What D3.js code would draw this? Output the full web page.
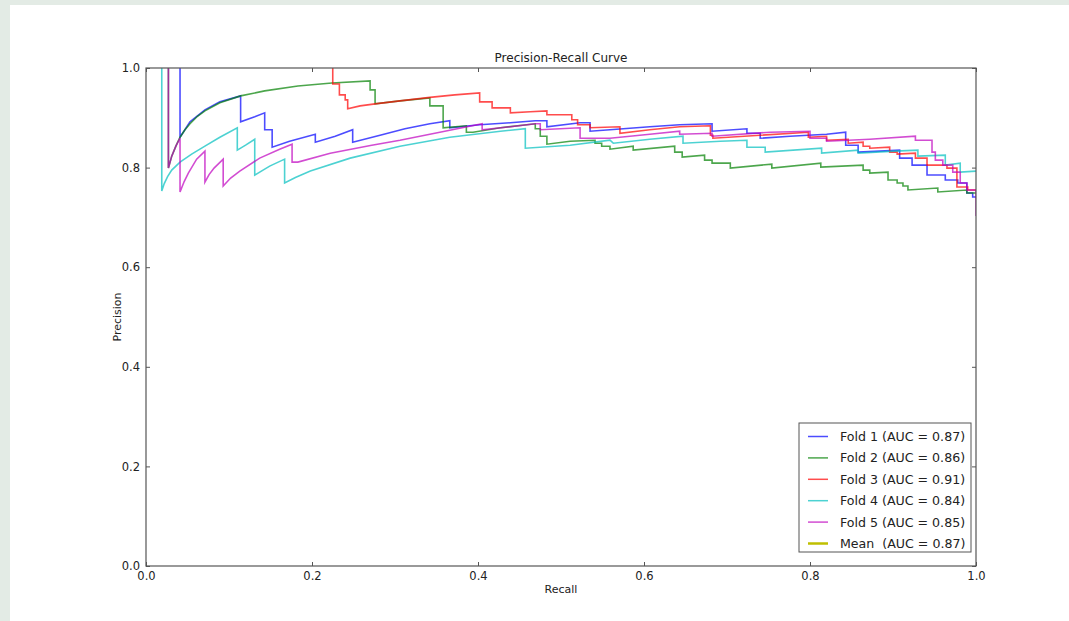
<!DOCTYPE html>
<html>
<head>
<meta charset="utf-8">
<script src="https://cdn.jsdelivr.net/npm/d3@7"></script>
<style>
  body { margin: 0; background: #fff; }
  svg text { font-family: 'DejaVu Sans', sans-serif; fill: #222; }
</style>
</head>
<body>
<script>
// recall / precision pairs, one array per fold
const fold1 = [
  [0.041, 1.0], [0.041, 0.861], [0.053, 0.892], [0.071, 0.916], [0.089, 0.932], [0.114, 0.944],
  [0.114, 0.892], [0.131, 0.902], [0.143, 0.910], [0.143, 0.876], [0.152, 0.876], [0.152, 0.841],
  [0.173, 0.853], [0.204, 0.867], [0.204, 0.851], [0.228, 0.863], [0.249, 0.876], [0.249, 0.851],
  [0.282, 0.865], [0.312, 0.878], [0.342, 0.888], [0.366, 0.894], [0.366, 0.880], [0.402, 0.886],
  [0.439, 0.890], [0.469, 0.894], [0.483, 0.894], [0.483, 0.882], [0.523, 0.890], [0.535, 0.890],
  [0.535, 0.873], [0.559, 0.876], [0.607, 0.882], [0.643, 0.886], [0.682, 0.888], [0.682, 0.873],
  [0.724, 0.878], [0.724, 0.869], [0.740, 0.869], [0.740, 0.859], [0.776, 0.863], [0.820, 0.867],
  [0.843, 0.871], [0.843, 0.845], [0.858, 0.845], [0.858, 0.831], [0.884, 0.833], [0.908, 0.835],
  [0.908, 0.819], [0.923, 0.819], [0.923, 0.805], [0.941, 0.805], [0.941, 0.785], [0.963, 0.785],
  [0.963, 0.775], [0.978, 0.775], [0.978, 0.769], [0.989, 0.769], [0.989, 0.749], [0.996, 0.749],
  [0.996, 0.741], [1.0, 0.741]
]
const fold2 = [
  [0.027, 1.0], [0.027, 0.799], [0.031, 0.823], [0.036, 0.843], [0.041, 0.861], [0.047, 0.876],
  [0.053, 0.888], [0.062, 0.903], [0.071, 0.914], [0.089, 0.930], [0.114, 0.944], [0.143, 0.954],
  [0.183, 0.964], [0.224, 0.970], [0.270, 0.974], [0.270, 0.956], [0.276, 0.956], [0.276, 0.928],
  [0.306, 0.934], [0.342, 0.940], [0.342, 0.924], [0.358, 0.924], [0.358, 0.880], [0.386, 0.884],
  [0.386, 0.871], [0.394, 0.871], [0.427, 0.880], [0.469, 0.888], [0.469, 0.878], [0.475, 0.878],
  [0.475, 0.863], [0.483, 0.863], [0.483, 0.847], [0.511, 0.853], [0.541, 0.855], [0.541, 0.849],
  [0.549, 0.849], [0.549, 0.843], [0.559, 0.843], [0.559, 0.837], [0.587, 0.843], [0.587, 0.835],
  [0.637, 0.843], [0.637, 0.831], [0.646, 0.831], [0.646, 0.821], [0.673, 0.825], [0.673, 0.815],
  [0.682, 0.815], [0.682, 0.809], [0.704, 0.809], [0.704, 0.799], [0.754, 0.807], [0.754, 0.799],
  [0.813, 0.809], [0.813, 0.801], [0.864, 0.805], [0.864, 0.795], [0.872, 0.795], [0.872, 0.789],
  [0.894, 0.791], [0.894, 0.775], [0.905, 0.775], [0.905, 0.769], [0.912, 0.769], [0.912, 0.763],
  [0.918, 0.763], [0.918, 0.755], [0.954, 0.759], [0.954, 0.751], [0.989, 0.755], [0.989, 0.749],
  [1.0, 0.749]
]
const fold3 = [
  [0.225, 1.0], [0.225, 0.968], [0.233, 0.968], [0.233, 0.946], [0.240, 0.946], [0.240, 0.936],
  [0.243, 0.936], [0.243, 0.918], [0.258, 0.924], [0.276, 0.928], [0.306, 0.934], [0.342, 0.941],
  [0.372, 0.946], [0.402, 0.950], [0.402, 0.932], [0.417, 0.932], [0.417, 0.920], [0.439, 0.920],
  [0.439, 0.910], [0.463, 0.912], [0.483, 0.914], [0.483, 0.906], [0.513, 0.906], [0.513, 0.896],
  [0.520, 0.896], [0.520, 0.886], [0.535, 0.886], [0.535, 0.880], [0.571, 0.882], [0.571, 0.869],
  [0.607, 0.876], [0.643, 0.882], [0.680, 0.884], [0.680, 0.865], [0.683, 0.865], [0.683, 0.859],
  [0.740, 0.865], [0.798, 0.871], [0.798, 0.861], [0.820, 0.863], [0.820, 0.855], [0.846, 0.857],
  [0.846, 0.849], [0.864, 0.851], [0.864, 0.843], [0.872, 0.843], [0.872, 0.839], [0.896, 0.841],
  [0.896, 0.831], [0.905, 0.831], [0.905, 0.827], [0.927, 0.829], [0.927, 0.819], [0.941, 0.819],
  [0.941, 0.805], [0.965, 0.805], [0.965, 0.799], [0.977, 0.799], [0.977, 0.761], [0.990, 0.761],
  [0.990, 0.755], [1.0, 0.755]
]
const fold4 = [
  [0.019, 1.0], [0.019, 0.753], [0.022, 0.768], [0.026, 0.782], [0.031, 0.795], [0.041, 0.811],
  [0.055, 0.827], [0.071, 0.843], [0.089, 0.861], [0.110, 0.880], [0.110, 0.835], [0.120, 0.845],
  [0.131, 0.857], [0.131, 0.785], [0.140, 0.794], [0.149, 0.803], [0.167, 0.817], [0.167, 0.769],
  [0.180, 0.780], [0.198, 0.793], [0.246, 0.819], [0.306, 0.843], [0.366, 0.861], [0.427, 0.873],
  [0.457, 0.878], [0.457, 0.839], [0.511, 0.845], [0.559, 0.855], [0.563, 0.849], [0.607, 0.857],
  [0.647, 0.863], [0.647, 0.849], [0.692, 0.853], [0.724, 0.855], [0.724, 0.841], [0.746, 0.841],
  [0.746, 0.831], [0.814, 0.839], [0.814, 0.829], [0.858, 0.835], [0.858, 0.829], [0.902, 0.833],
  [0.930, 0.835], [0.930, 0.823], [0.963, 0.825], [0.963, 0.805], [0.981, 0.809], [0.981, 0.791],
  [1.0, 0.793]
]
const fold5 = [
  [0.027, 1.0], [0.027, 0.799], [0.031, 0.823], [0.036, 0.843], [0.041, 0.859], [0.041, 0.751],
  [0.046, 0.772], [0.051, 0.789], [0.061, 0.817], [0.071, 0.833], [0.071, 0.771], [0.076, 0.786],
  [0.082, 0.799], [0.093, 0.817], [0.093, 0.763], [0.102, 0.779], [0.113, 0.793], [0.137, 0.819],
  [0.161, 0.837], [0.176, 0.847], [0.176, 0.811], [0.183, 0.811], [0.222, 0.829], [0.272, 0.845],
  [0.306, 0.855], [0.342, 0.867], [0.387, 0.882], [0.405, 0.888], [0.405, 0.876], [0.439, 0.882],
  [0.469, 0.888], [0.475, 0.888], [0.475, 0.876], [0.523, 0.880], [0.523, 0.859], [0.559, 0.859],
  [0.607, 0.867], [0.643, 0.873], [0.643, 0.867], [0.682, 0.869], [0.682, 0.863], [0.752, 0.871],
  [0.800, 0.873], [0.800, 0.859], [0.820, 0.859], [0.820, 0.853], [0.872, 0.857], [0.927, 0.863],
  [0.927, 0.855], [0.947, 0.855], [0.947, 0.831], [0.951, 0.831], [0.951, 0.815], [0.960, 0.815],
  [0.960, 0.805], [0.972, 0.805], [0.972, 0.791], [0.981, 0.791], [0.981, 0.769], [0.989, 0.769],
  [0.989, 0.755], [1.0, 0.755], [1.0, 0.703]
]

const folds = [fold1, fold2, fold3, fold4, fold5]
const foldLabels = ['Fold 1 (AUC = 0.87)', 'Fold 2 (AUC = 0.86)', 'Fold 3 (AUC = 0.91)',
  'Fold 4 (AUC = 0.84)', 'Fold 5 (AUC = 0.85)']
const foldColors = ['#0000ff', '#008000', '#ff0000', '#00bfbf', '#bf00bf']
const meanLabel = 'Mean  (AUC = 0.87)'
const meanColor = '#bfbf00'
const xTicks = [0, 0.2, 0.4, 0.6, 0.8, 1.0]
const yTicks = [0, 0.2, 0.4, 0.6, 0.8, 1.0]

const width = 1069
const height = 621
const margin = {top: 68, right: 93, bottom: 55, left: 146}
const plotW = width - margin.left - margin.right
const plotH = height - margin.top - margin.bottom

const x = d3.scaleLinear().domain([0, 1]).range([0, plotW])
const y = d3.scaleLinear().domain([0, 1]).range([plotH, 0])

const svg = d3.select('body').append('svg')
    .attr('width', width)
    .attr('height', height)

// page backdrop: greenish frame with a white sheet on it
svg.append('rect')
    .attr('width', width)
    .attr('height', height)
    .attr('fill', '#e3ebe5')
svg.append('rect')
    .attr('x', 10)
    .attr('y', 5)
    .attr('width', width - 10)
    .attr('height', height - 5)
    .attr('fill', '#fff')

const g = svg.append('g')
    .attr('transform', `translate(${margin.left}, ${margin.top})`)

const fmt = d3.format('.1f')

g.append('g')
    .attr('transform', `translate(0, ${plotH})`)
    .call(d3.axisBottom(x).tickValues(xTicks).tickFormat(fmt).tickSizeInner(-4).tickSizeOuter(0).tickPadding(6))
g.append('g')
    .call(d3.axisTop(x).tickValues(xTicks).tickFormat('').tickSizeInner(-4).tickSizeOuter(0))
g.append('g')
    .call(d3.axisLeft(y).tickValues(yTicks).tickFormat(fmt).tickSizeInner(-4).tickSizeOuter(0).tickPadding(6))
g.append('g')
    .attr('transform', `translate(${plotW}, 0)`)
    .call(d3.axisRight(y).tickValues(yTicks).tickFormat('').tickSizeInner(-4).tickSizeOuter(0))

g.selectAll('.domain').remove()
g.selectAll('.tick line').attr('stroke', '#555')
g.selectAll('.tick text').attr('font-size', 11.5).attr('fill', '#333')

const clip = svg.append('clipPath').attr('id', 'plot-clip')
clip.append('rect').attr('width', plotW).attr('height', plotH)

const line = d3.line()
  .x((d) => x(d[0]))
  .y((d) => y(d[1]))

g.append('g')
    .attr('clip-path', 'url(#plot-clip)')
  .selectAll('path')
  .data(folds)
  .join('path')
    .attr('d', line)
    .attr('fill', 'none')
    .attr('stroke', (d, i) => foldColors[i])
    .attr('stroke-opacity', 0.7)
    .attr('stroke-width', 1.6)

g.append('rect')
    .attr('width', plotW)
    .attr('height', plotH)
    .attr('fill', 'none')
    .attr('stroke', '#555')
    .attr('stroke-width', 1.2)

g.append('text')
    .attr('x', plotW / 2)
    .attr('y', -6)
    .attr('text-anchor', 'middle')
    .attr('font-size', 12)
    .text('Precision-Recall Curve')

g.append('text')
    .attr('x', plotW / 2)
    .attr('y', plotH + 27)
    .attr('text-anchor', 'middle')
    .attr('font-size', 11)
    .text('Recall')

g.append('text')
    .attr('transform', `translate(-25, ${plotH / 2}) rotate(-90)`)
    .attr('text-anchor', 'middle')
    .attr('font-size', 11)
    .text('Precision')

// legend, lower right
const legendItems = foldLabels.map((label, i) => ({label, color: foldColors[i], alpha: 0.7, w: 1.5}))
  .concat([{label: meanLabel, color: meanColor, alpha: 1, w: 2.5}])

const legend = g.append('g')
    .attr('transform', `translate(${plotW - 177}, ${plotH - 143})`)

legend.append('rect')
    .attr('width', 172)
    .attr('height', 129)
    .attr('fill', '#fff')
    .attr('stroke', '#555')
    .attr('stroke-width', 1)

const rows = legend.selectAll('g.row')
  .data(legendItems)
  .join('g')
    .attr('class', 'row')
    .attr('transform', (d, i) => `translate(0, ${13.5 + i * 21.4})`)

rows.append('line')
    .attr('x1', 9)
    .attr('x2', 29)
    .attr('stroke', (d) => d.color)
    .attr('stroke-opacity', (d) => d.alpha)
    .attr('stroke-width', (d) => d.w)

rows.append('text')
    .attr('x', 41)
    .attr('dy', '0.35em')
    .attr('font-size', 12.6)
    .style('white-space', 'pre')
    .text((d) => d.label)
</script>
</body>
</html>
